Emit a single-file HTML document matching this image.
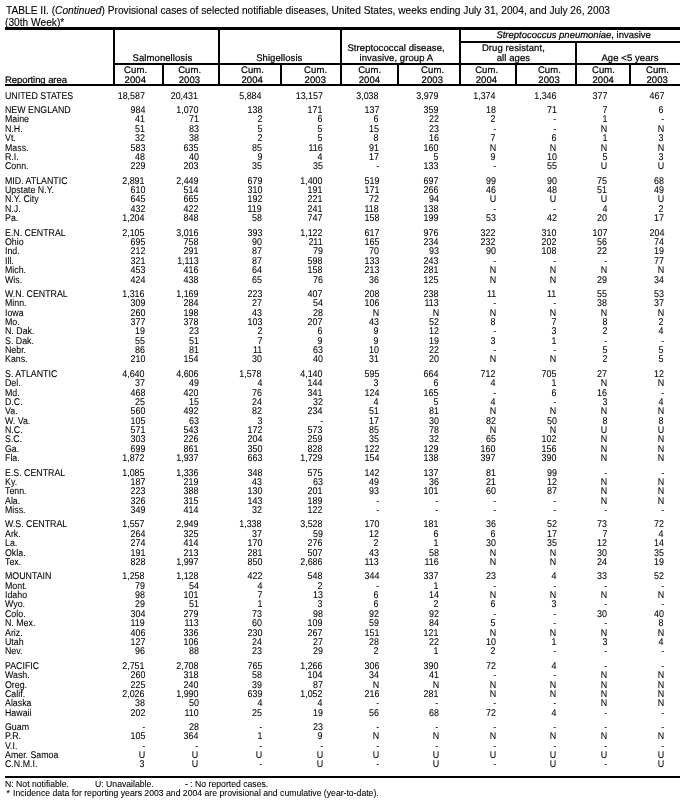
<!DOCTYPE html>
<html><head><meta charset="utf-8"><style>
*{margin:0;padding:0;box-sizing:border-box}
html,body{width:687px;height:802px;background:#fff;overflow:hidden}
body{position:relative;font-family:"Liberation Sans",sans-serif;color:#0b0709;text-rendering:geometricPrecision;-webkit-text-stroke:0.08px #0b0709}
#w{position:absolute;left:0;top:0;width:687px;height:802px;will-change:transform;filter:contrast(1.4)}
.t{position:absolute;white-space:pre;line-height:10px}
.l{position:absolute;background:#0b0709}
.d{font-size:9.8px;transform:scaleX(0.9);transform-origin:0 0}
.n{font-size:9.8px;text-align:right;transform:scaleX(0.91);transform-origin:100% 0}
.h{font-size:9.5px;letter-spacing:0.08px;-webkit-text-stroke:0.22px #0b0709}
.f{font-size:8.67px;text-rendering:auto}
.ti{font-size:11px;transform:scaleX(0.926);transform-origin:0 0;text-rendering:auto;-webkit-text-stroke:0.12px #0b0709}
</style></head><body><div id="w">

<div class="t ti" style="left:5.60px;top:5px">TABLE II. (<i>Continued</i>) Provisional cases of selected notifiable diseases, United States, weeks ending July 31, 2004, and July 26, 2003</div>
<div class="t ti" style="left:5.40px;top:17px">(30th Week)*</div>
<div class="l" style="left:5px;top:27px;width:675px;height:3px"></div>
<div class="l" style="left:461px;top:41px;width:219px;height:2px"></div>
<div class="l" style="left:115px;top:63px;width:565px;height:2px"></div>
<div class="l" style="left:5px;top:84px;width:675px;height:2px"></div>
<div class="l" style="left:5px;top:776px;width:675px;height:2px"></div>
<div class="l" style="left:113px;top:30px;width:2px;height:54px"></div>
<div class="l" style="left:218px;top:30px;width:2px;height:54px"></div>
<div class="l" style="left:340px;top:30px;width:2px;height:54px"></div>
<div class="l" style="left:459px;top:30px;width:2px;height:54px"></div>
<div class="l" style="left:575px;top:43px;width:2px;height:41px"></div>
<div class="l" style="left:162px;top:65px;width:2px;height:19px"></div>
<div class="l" style="left:280px;top:65px;width:2px;height:19px"></div>
<div class="l" style="left:397px;top:65px;width:2px;height:19px"></div>
<div class="l" style="left:515px;top:65px;width:2px;height:19px"></div>
<div class="l" style="left:629px;top:65px;width:2px;height:19px"></div>
<div class="t h" style="left:5.00px;top:76px;letter-spacing:-0.07px">Reporting area</div>
<div class="t h" style="left:62.40px;width:200px;text-align:center;top:54px">Salmonellosis</div>
<div class="t h" style="left:179.30px;width:200px;text-align:center;top:54px">Shigellosis</div>
<div class="t h" style="left:296.10px;width:200px;text-align:center;top:44px">Streptococcal disease,</div>
<div class="t h" style="left:296.30px;width:200px;text-align:center;top:54px">invasive, group A</div>
<div class="t h" style="left:473.60px;width:200px;text-align:center;top:31px;letter-spacing:-0.01px"><i>Streptococcus pneumoniae</i>, invasive</div>
<div class="t h" style="left:413.40px;width:200px;text-align:center;top:44px">Drug resistant,</div>
<div class="t h" style="left:413.40px;width:200px;text-align:center;top:54px">all ages</div>
<div class="t h" style="left:530.00px;width:200px;text-align:center;top:54px">Age &lt;5 years</div>
<div class="t h" style="left:35.60px;width:200px;text-align:center;top:66px">Cum.</div>
<div class="t h" style="left:35.30px;width:200px;text-align:center;top:76px">2004</div>
<div class="t h" style="left:89.70px;width:200px;text-align:center;top:66px">Cum.</div>
<div class="t h" style="left:89.40px;width:200px;text-align:center;top:76px">2003</div>
<div class="t h" style="left:152.50px;width:200px;text-align:center;top:66px">Cum.</div>
<div class="t h" style="left:152.20px;width:200px;text-align:center;top:76px">2004</div>
<div class="t h" style="left:215.60px;width:200px;text-align:center;top:66px">Cum.</div>
<div class="t h" style="left:215.30px;width:200px;text-align:center;top:76px">2003</div>
<div class="t h" style="left:269.70px;width:200px;text-align:center;top:66px">Cum.</div>
<div class="t h" style="left:269.40px;width:200px;text-align:center;top:76px">2004</div>
<div class="t h" style="left:332.60px;width:200px;text-align:center;top:66px">Cum.</div>
<div class="t h" style="left:332.30px;width:200px;text-align:center;top:76px">2003</div>
<div class="t h" style="left:386.70px;width:200px;text-align:center;top:66px">Cum.</div>
<div class="t h" style="left:386.40px;width:200px;text-align:center;top:76px">2004</div>
<div class="t h" style="left:449.40px;width:200px;text-align:center;top:66px">Cum.</div>
<div class="t h" style="left:449.10px;width:200px;text-align:center;top:76px">2003</div>
<div class="t h" style="left:503.50px;width:200px;text-align:center;top:66px">Cum.</div>
<div class="t h" style="left:503.20px;width:200px;text-align:center;top:76px">2004</div>
<div class="t h" style="left:557.50px;width:200px;text-align:center;top:66px">Cum.</div>
<div class="t h" style="left:557.20px;width:200px;text-align:center;top:76px">2003</div>
<div class="t d" style="left:5.00px;top:92px">UNITED STATES</div>
<div class="t n" style="right:542.10px;top:92px">18,587</div>
<div class="t n" style="right:488.60px;top:92px">20,431</div>
<div class="t n" style="right:425.05px;top:92px">5,884</div>
<div class="t n" style="right:364.20px;top:92px">13,157</div>
<div class="t n" style="right:308.10px;top:92px">3,038</div>
<div class="t n" style="right:248.30px;top:92px">3,979</div>
<div class="t n" style="right:191.20px;top:92px">1,374</div>
<div class="t n" style="right:130.60px;top:92px">1,346</div>
<div class="t n" style="right:79.80px;top:92px">377</div>
<div class="t n" style="right:23.15px;top:92px">467</div>
<div class="t d" style="left:5.00px;top:106px">NEW ENGLAND</div>
<div class="t n" style="right:542.10px;top:106px">984</div>
<div class="t n" style="right:488.60px;top:106px">1,070</div>
<div class="t n" style="right:425.05px;top:106px">138</div>
<div class="t n" style="right:364.20px;top:106px">171</div>
<div class="t n" style="right:308.10px;top:106px">137</div>
<div class="t n" style="right:248.30px;top:106px">359</div>
<div class="t n" style="right:191.20px;top:106px">18</div>
<div class="t n" style="right:130.60px;top:106px">71</div>
<div class="t n" style="right:79.80px;top:106px">7</div>
<div class="t n" style="right:23.15px;top:106px">6</div>
<div class="t d" style="left:5.00px;top:115px">Maine</div>
<div class="t n" style="right:542.10px;top:115px">41</div>
<div class="t n" style="right:488.60px;top:115px">71</div>
<div class="t n" style="right:425.05px;top:115px">2</div>
<div class="t n" style="right:364.20px;top:115px">6</div>
<div class="t n" style="right:308.10px;top:115px">6</div>
<div class="t n" style="right:248.30px;top:115px">22</div>
<div class="t n" style="right:191.20px;top:115px">2</div>
<div class="t n" style="right:130.60px;top:115px">-</div>
<div class="t n" style="right:79.80px;top:115px">1</div>
<div class="t n" style="right:23.15px;top:115px">-</div>
<div class="t d" style="left:5.00px;top:125px">N.H.</div>
<div class="t n" style="right:542.10px;top:125px">51</div>
<div class="t n" style="right:488.60px;top:125px">83</div>
<div class="t n" style="right:425.05px;top:125px">5</div>
<div class="t n" style="right:364.20px;top:125px">5</div>
<div class="t n" style="right:308.10px;top:125px">15</div>
<div class="t n" style="right:248.30px;top:125px">23</div>
<div class="t n" style="right:191.20px;top:125px">-</div>
<div class="t n" style="right:130.60px;top:125px">-</div>
<div class="t n" style="right:79.80px;top:125px">N</div>
<div class="t n" style="right:23.15px;top:125px">N</div>
<div class="t d" style="left:5.00px;top:134px">Vt.</div>
<div class="t n" style="right:542.10px;top:134px">32</div>
<div class="t n" style="right:488.60px;top:134px">38</div>
<div class="t n" style="right:425.05px;top:134px">2</div>
<div class="t n" style="right:364.20px;top:134px">5</div>
<div class="t n" style="right:308.10px;top:134px">8</div>
<div class="t n" style="right:248.30px;top:134px">16</div>
<div class="t n" style="right:191.20px;top:134px">7</div>
<div class="t n" style="right:130.60px;top:134px">6</div>
<div class="t n" style="right:79.80px;top:134px">1</div>
<div class="t n" style="right:23.15px;top:134px">3</div>
<div class="t d" style="left:5.00px;top:144px">Mass.</div>
<div class="t n" style="right:542.10px;top:144px">583</div>
<div class="t n" style="right:488.60px;top:144px">635</div>
<div class="t n" style="right:425.05px;top:144px">85</div>
<div class="t n" style="right:364.20px;top:144px">116</div>
<div class="t n" style="right:308.10px;top:144px">91</div>
<div class="t n" style="right:248.30px;top:144px">160</div>
<div class="t n" style="right:191.20px;top:144px">N</div>
<div class="t n" style="right:130.60px;top:144px">N</div>
<div class="t n" style="right:79.80px;top:144px">N</div>
<div class="t n" style="right:23.15px;top:144px">N</div>
<div class="t d" style="left:5.00px;top:153px">R.I.</div>
<div class="t n" style="right:542.10px;top:153px">48</div>
<div class="t n" style="right:488.60px;top:153px">40</div>
<div class="t n" style="right:425.05px;top:153px">9</div>
<div class="t n" style="right:364.20px;top:153px">4</div>
<div class="t n" style="right:308.10px;top:153px">17</div>
<div class="t n" style="right:248.30px;top:153px">5</div>
<div class="t n" style="right:191.20px;top:153px">9</div>
<div class="t n" style="right:130.60px;top:153px">10</div>
<div class="t n" style="right:79.80px;top:153px">5</div>
<div class="t n" style="right:23.15px;top:153px">3</div>
<div class="t d" style="left:5.00px;top:162px">Conn.</div>
<div class="t n" style="right:542.10px;top:162px">229</div>
<div class="t n" style="right:488.60px;top:162px">203</div>
<div class="t n" style="right:425.05px;top:162px">35</div>
<div class="t n" style="right:364.20px;top:162px">35</div>
<div class="t n" style="right:308.10px;top:162px">-</div>
<div class="t n" style="right:248.30px;top:162px">133</div>
<div class="t n" style="right:191.20px;top:162px">-</div>
<div class="t n" style="right:130.60px;top:162px">55</div>
<div class="t n" style="right:79.80px;top:162px">U</div>
<div class="t n" style="right:23.15px;top:162px">U</div>
<div class="t d" style="left:5.00px;top:177px">MID. ATLANTIC</div>
<div class="t n" style="right:542.10px;top:177px">2,891</div>
<div class="t n" style="right:488.60px;top:177px">2,449</div>
<div class="t n" style="right:425.05px;top:177px">679</div>
<div class="t n" style="right:364.20px;top:177px">1,400</div>
<div class="t n" style="right:308.10px;top:177px">519</div>
<div class="t n" style="right:248.30px;top:177px">697</div>
<div class="t n" style="right:191.20px;top:177px">99</div>
<div class="t n" style="right:130.60px;top:177px">90</div>
<div class="t n" style="right:79.80px;top:177px">75</div>
<div class="t n" style="right:23.15px;top:177px">68</div>
<div class="t d" style="left:5.00px;top:186px">Upstate N.Y.</div>
<div class="t n" style="right:542.10px;top:186px">610</div>
<div class="t n" style="right:488.60px;top:186px">514</div>
<div class="t n" style="right:425.05px;top:186px">310</div>
<div class="t n" style="right:364.20px;top:186px">191</div>
<div class="t n" style="right:308.10px;top:186px">171</div>
<div class="t n" style="right:248.30px;top:186px">266</div>
<div class="t n" style="right:191.20px;top:186px">46</div>
<div class="t n" style="right:130.60px;top:186px">48</div>
<div class="t n" style="right:79.80px;top:186px">51</div>
<div class="t n" style="right:23.15px;top:186px">49</div>
<div class="t d" style="left:5.00px;top:195px">N.Y. City</div>
<div class="t n" style="right:542.10px;top:195px">645</div>
<div class="t n" style="right:488.60px;top:195px">665</div>
<div class="t n" style="right:425.05px;top:195px">192</div>
<div class="t n" style="right:364.20px;top:195px">221</div>
<div class="t n" style="right:308.10px;top:195px">72</div>
<div class="t n" style="right:248.30px;top:195px">94</div>
<div class="t n" style="right:191.20px;top:195px">U</div>
<div class="t n" style="right:130.60px;top:195px">U</div>
<div class="t n" style="right:79.80px;top:195px">U</div>
<div class="t n" style="right:23.15px;top:195px">U</div>
<div class="t d" style="left:5.00px;top:205px">N.J.</div>
<div class="t n" style="right:542.10px;top:205px">432</div>
<div class="t n" style="right:488.60px;top:205px">422</div>
<div class="t n" style="right:425.05px;top:205px">119</div>
<div class="t n" style="right:364.20px;top:205px">241</div>
<div class="t n" style="right:308.10px;top:205px">118</div>
<div class="t n" style="right:248.30px;top:205px">138</div>
<div class="t n" style="right:191.20px;top:205px">-</div>
<div class="t n" style="right:130.60px;top:205px">-</div>
<div class="t n" style="right:79.80px;top:205px">4</div>
<div class="t n" style="right:23.15px;top:205px">2</div>
<div class="t d" style="left:5.00px;top:214px">Pa.</div>
<div class="t n" style="right:542.10px;top:214px">1,204</div>
<div class="t n" style="right:488.60px;top:214px">848</div>
<div class="t n" style="right:425.05px;top:214px">58</div>
<div class="t n" style="right:364.20px;top:214px">747</div>
<div class="t n" style="right:308.10px;top:214px">158</div>
<div class="t n" style="right:248.30px;top:214px">199</div>
<div class="t n" style="right:191.20px;top:214px">53</div>
<div class="t n" style="right:130.60px;top:214px">42</div>
<div class="t n" style="right:79.80px;top:214px">20</div>
<div class="t n" style="right:23.15px;top:214px">17</div>
<div class="t d" style="left:5.00px;top:229px">E.N. CENTRAL</div>
<div class="t n" style="right:542.10px;top:229px">2,105</div>
<div class="t n" style="right:488.60px;top:229px">3,016</div>
<div class="t n" style="right:425.05px;top:229px">393</div>
<div class="t n" style="right:364.20px;top:229px">1,122</div>
<div class="t n" style="right:308.10px;top:229px">617</div>
<div class="t n" style="right:248.30px;top:229px">976</div>
<div class="t n" style="right:191.20px;top:229px">322</div>
<div class="t n" style="right:130.60px;top:229px">310</div>
<div class="t n" style="right:79.80px;top:229px">107</div>
<div class="t n" style="right:23.15px;top:229px">204</div>
<div class="t d" style="left:5.00px;top:238px">Ohio</div>
<div class="t n" style="right:542.10px;top:238px">695</div>
<div class="t n" style="right:488.60px;top:238px">758</div>
<div class="t n" style="right:425.05px;top:238px">90</div>
<div class="t n" style="right:364.20px;top:238px">211</div>
<div class="t n" style="right:308.10px;top:238px">165</div>
<div class="t n" style="right:248.30px;top:238px">234</div>
<div class="t n" style="right:191.20px;top:238px">232</div>
<div class="t n" style="right:130.60px;top:238px">202</div>
<div class="t n" style="right:79.80px;top:238px">56</div>
<div class="t n" style="right:23.15px;top:238px">74</div>
<div class="t d" style="left:5.00px;top:247px">Ind.</div>
<div class="t n" style="right:542.10px;top:247px">212</div>
<div class="t n" style="right:488.60px;top:247px">291</div>
<div class="t n" style="right:425.05px;top:247px">87</div>
<div class="t n" style="right:364.20px;top:247px">79</div>
<div class="t n" style="right:308.10px;top:247px">70</div>
<div class="t n" style="right:248.30px;top:247px">93</div>
<div class="t n" style="right:191.20px;top:247px">90</div>
<div class="t n" style="right:130.60px;top:247px">108</div>
<div class="t n" style="right:79.80px;top:247px">22</div>
<div class="t n" style="right:23.15px;top:247px">19</div>
<div class="t d" style="left:5.00px;top:257px">Ill.</div>
<div class="t n" style="right:542.10px;top:257px">321</div>
<div class="t n" style="right:488.60px;top:257px">1,113</div>
<div class="t n" style="right:425.05px;top:257px">87</div>
<div class="t n" style="right:364.20px;top:257px">598</div>
<div class="t n" style="right:308.10px;top:257px">133</div>
<div class="t n" style="right:248.30px;top:257px">243</div>
<div class="t n" style="right:191.20px;top:257px">-</div>
<div class="t n" style="right:130.60px;top:257px">-</div>
<div class="t n" style="right:79.80px;top:257px">-</div>
<div class="t n" style="right:23.15px;top:257px">77</div>
<div class="t d" style="left:5.00px;top:266px">Mich.</div>
<div class="t n" style="right:542.10px;top:266px">453</div>
<div class="t n" style="right:488.60px;top:266px">416</div>
<div class="t n" style="right:425.05px;top:266px">64</div>
<div class="t n" style="right:364.20px;top:266px">158</div>
<div class="t n" style="right:308.10px;top:266px">213</div>
<div class="t n" style="right:248.30px;top:266px">281</div>
<div class="t n" style="right:191.20px;top:266px">N</div>
<div class="t n" style="right:130.60px;top:266px">N</div>
<div class="t n" style="right:79.80px;top:266px">N</div>
<div class="t n" style="right:23.15px;top:266px">N</div>
<div class="t d" style="left:5.00px;top:276px">Wis.</div>
<div class="t n" style="right:542.10px;top:276px">424</div>
<div class="t n" style="right:488.60px;top:276px">438</div>
<div class="t n" style="right:425.05px;top:276px">65</div>
<div class="t n" style="right:364.20px;top:276px">76</div>
<div class="t n" style="right:308.10px;top:276px">36</div>
<div class="t n" style="right:248.30px;top:276px">125</div>
<div class="t n" style="right:191.20px;top:276px">N</div>
<div class="t n" style="right:130.60px;top:276px">N</div>
<div class="t n" style="right:79.80px;top:276px">29</div>
<div class="t n" style="right:23.15px;top:276px">34</div>
<div class="t d" style="left:5.00px;top:290px">W.N. CENTRAL</div>
<div class="t n" style="right:542.10px;top:290px">1,316</div>
<div class="t n" style="right:488.60px;top:290px">1,169</div>
<div class="t n" style="right:425.05px;top:290px">223</div>
<div class="t n" style="right:364.20px;top:290px">407</div>
<div class="t n" style="right:308.10px;top:290px">208</div>
<div class="t n" style="right:248.30px;top:290px">238</div>
<div class="t n" style="right:191.20px;top:290px">11</div>
<div class="t n" style="right:130.60px;top:290px">11</div>
<div class="t n" style="right:79.80px;top:290px">55</div>
<div class="t n" style="right:23.15px;top:290px">53</div>
<div class="t d" style="left:5.00px;top:299px">Minn.</div>
<div class="t n" style="right:542.10px;top:299px">309</div>
<div class="t n" style="right:488.60px;top:299px">284</div>
<div class="t n" style="right:425.05px;top:299px">27</div>
<div class="t n" style="right:364.20px;top:299px">54</div>
<div class="t n" style="right:308.10px;top:299px">106</div>
<div class="t n" style="right:248.30px;top:299px">113</div>
<div class="t n" style="right:191.20px;top:299px">-</div>
<div class="t n" style="right:130.60px;top:299px">-</div>
<div class="t n" style="right:79.80px;top:299px">38</div>
<div class="t n" style="right:23.15px;top:299px">37</div>
<div class="t d" style="left:5.00px;top:309px">Iowa</div>
<div class="t n" style="right:542.10px;top:309px">260</div>
<div class="t n" style="right:488.60px;top:309px">198</div>
<div class="t n" style="right:425.05px;top:309px">43</div>
<div class="t n" style="right:364.20px;top:309px">28</div>
<div class="t n" style="right:308.10px;top:309px">N</div>
<div class="t n" style="right:248.30px;top:309px">N</div>
<div class="t n" style="right:191.20px;top:309px">N</div>
<div class="t n" style="right:130.60px;top:309px">N</div>
<div class="t n" style="right:79.80px;top:309px">N</div>
<div class="t n" style="right:23.15px;top:309px">N</div>
<div class="t d" style="left:5.00px;top:318px">Mo.</div>
<div class="t n" style="right:542.10px;top:318px">377</div>
<div class="t n" style="right:488.60px;top:318px">378</div>
<div class="t n" style="right:425.05px;top:318px">103</div>
<div class="t n" style="right:364.20px;top:318px">207</div>
<div class="t n" style="right:308.10px;top:318px">43</div>
<div class="t n" style="right:248.30px;top:318px">52</div>
<div class="t n" style="right:191.20px;top:318px">8</div>
<div class="t n" style="right:130.60px;top:318px">7</div>
<div class="t n" style="right:79.80px;top:318px">8</div>
<div class="t n" style="right:23.15px;top:318px">2</div>
<div class="t d" style="left:5.00px;top:327px">N. Dak.</div>
<div class="t n" style="right:542.10px;top:327px">19</div>
<div class="t n" style="right:488.60px;top:327px">23</div>
<div class="t n" style="right:425.05px;top:327px">2</div>
<div class="t n" style="right:364.20px;top:327px">6</div>
<div class="t n" style="right:308.10px;top:327px">9</div>
<div class="t n" style="right:248.30px;top:327px">12</div>
<div class="t n" style="right:191.20px;top:327px">-</div>
<div class="t n" style="right:130.60px;top:327px">3</div>
<div class="t n" style="right:79.80px;top:327px">2</div>
<div class="t n" style="right:23.15px;top:327px">4</div>
<div class="t d" style="left:5.00px;top:337px">S. Dak.</div>
<div class="t n" style="right:542.10px;top:337px">55</div>
<div class="t n" style="right:488.60px;top:337px">51</div>
<div class="t n" style="right:425.05px;top:337px">7</div>
<div class="t n" style="right:364.20px;top:337px">9</div>
<div class="t n" style="right:308.10px;top:337px">9</div>
<div class="t n" style="right:248.30px;top:337px">19</div>
<div class="t n" style="right:191.20px;top:337px">3</div>
<div class="t n" style="right:130.60px;top:337px">1</div>
<div class="t n" style="right:79.80px;top:337px">-</div>
<div class="t n" style="right:23.15px;top:337px">-</div>
<div class="t d" style="left:5.00px;top:346px">Nebr.</div>
<div class="t n" style="right:542.10px;top:346px">86</div>
<div class="t n" style="right:488.60px;top:346px">81</div>
<div class="t n" style="right:425.05px;top:346px">11</div>
<div class="t n" style="right:364.20px;top:346px">63</div>
<div class="t n" style="right:308.10px;top:346px">10</div>
<div class="t n" style="right:248.30px;top:346px">22</div>
<div class="t n" style="right:191.20px;top:346px">-</div>
<div class="t n" style="right:130.60px;top:346px">-</div>
<div class="t n" style="right:79.80px;top:346px">5</div>
<div class="t n" style="right:23.15px;top:346px">5</div>
<div class="t d" style="left:5.00px;top:355px">Kans.</div>
<div class="t n" style="right:542.10px;top:355px">210</div>
<div class="t n" style="right:488.60px;top:355px">154</div>
<div class="t n" style="right:425.05px;top:355px">30</div>
<div class="t n" style="right:364.20px;top:355px">40</div>
<div class="t n" style="right:308.10px;top:355px">31</div>
<div class="t n" style="right:248.30px;top:355px">20</div>
<div class="t n" style="right:191.20px;top:355px">N</div>
<div class="t n" style="right:130.60px;top:355px">N</div>
<div class="t n" style="right:79.80px;top:355px">2</div>
<div class="t n" style="right:23.15px;top:355px">5</div>
<div class="t d" style="left:5.00px;top:370px">S. ATLANTIC</div>
<div class="t n" style="right:542.10px;top:370px">4,640</div>
<div class="t n" style="right:488.60px;top:370px">4,606</div>
<div class="t n" style="right:425.05px;top:370px">1,578</div>
<div class="t n" style="right:364.20px;top:370px">4,140</div>
<div class="t n" style="right:308.10px;top:370px">595</div>
<div class="t n" style="right:248.30px;top:370px">664</div>
<div class="t n" style="right:191.20px;top:370px">712</div>
<div class="t n" style="right:130.60px;top:370px">705</div>
<div class="t n" style="right:79.80px;top:370px">27</div>
<div class="t n" style="right:23.15px;top:370px">12</div>
<div class="t d" style="left:5.00px;top:379px">Del.</div>
<div class="t n" style="right:542.10px;top:379px">37</div>
<div class="t n" style="right:488.60px;top:379px">49</div>
<div class="t n" style="right:425.05px;top:379px">4</div>
<div class="t n" style="right:364.20px;top:379px">144</div>
<div class="t n" style="right:308.10px;top:379px">3</div>
<div class="t n" style="right:248.30px;top:379px">6</div>
<div class="t n" style="right:191.20px;top:379px">4</div>
<div class="t n" style="right:130.60px;top:379px">1</div>
<div class="t n" style="right:79.80px;top:379px">N</div>
<div class="t n" style="right:23.15px;top:379px">N</div>
<div class="t d" style="left:5.00px;top:389px">Md.</div>
<div class="t n" style="right:542.10px;top:389px">468</div>
<div class="t n" style="right:488.60px;top:389px">420</div>
<div class="t n" style="right:425.05px;top:389px">76</div>
<div class="t n" style="right:364.20px;top:389px">341</div>
<div class="t n" style="right:308.10px;top:389px">124</div>
<div class="t n" style="right:248.30px;top:389px">165</div>
<div class="t n" style="right:191.20px;top:389px">-</div>
<div class="t n" style="right:130.60px;top:389px">6</div>
<div class="t n" style="right:79.80px;top:389px">16</div>
<div class="t n" style="right:23.15px;top:389px">-</div>
<div class="t d" style="left:5.00px;top:398px">D.C.</div>
<div class="t n" style="right:542.10px;top:398px">25</div>
<div class="t n" style="right:488.60px;top:398px">15</div>
<div class="t n" style="right:425.05px;top:398px">24</div>
<div class="t n" style="right:364.20px;top:398px">32</div>
<div class="t n" style="right:308.10px;top:398px">4</div>
<div class="t n" style="right:248.30px;top:398px">5</div>
<div class="t n" style="right:191.20px;top:398px">4</div>
<div class="t n" style="right:130.60px;top:398px">-</div>
<div class="t n" style="right:79.80px;top:398px">3</div>
<div class="t n" style="right:23.15px;top:398px">4</div>
<div class="t d" style="left:5.00px;top:407px">Va.</div>
<div class="t n" style="right:542.10px;top:407px">560</div>
<div class="t n" style="right:488.60px;top:407px">492</div>
<div class="t n" style="right:425.05px;top:407px">82</div>
<div class="t n" style="right:364.20px;top:407px">234</div>
<div class="t n" style="right:308.10px;top:407px">51</div>
<div class="t n" style="right:248.30px;top:407px">81</div>
<div class="t n" style="right:191.20px;top:407px">N</div>
<div class="t n" style="right:130.60px;top:407px">N</div>
<div class="t n" style="right:79.80px;top:407px">N</div>
<div class="t n" style="right:23.15px;top:407px">N</div>
<div class="t d" style="left:5.00px;top:417px">W. Va.</div>
<div class="t n" style="right:542.10px;top:417px">105</div>
<div class="t n" style="right:488.60px;top:417px">63</div>
<div class="t n" style="right:425.05px;top:417px">3</div>
<div class="t n" style="right:364.20px;top:417px">-</div>
<div class="t n" style="right:308.10px;top:417px">17</div>
<div class="t n" style="right:248.30px;top:417px">30</div>
<div class="t n" style="right:191.20px;top:417px">82</div>
<div class="t n" style="right:130.60px;top:417px">50</div>
<div class="t n" style="right:79.80px;top:417px">8</div>
<div class="t n" style="right:23.15px;top:417px">8</div>
<div class="t d" style="left:5.00px;top:426px">N.C.</div>
<div class="t n" style="right:542.10px;top:426px">571</div>
<div class="t n" style="right:488.60px;top:426px">543</div>
<div class="t n" style="right:425.05px;top:426px">172</div>
<div class="t n" style="right:364.20px;top:426px">573</div>
<div class="t n" style="right:308.10px;top:426px">85</div>
<div class="t n" style="right:248.30px;top:426px">78</div>
<div class="t n" style="right:191.20px;top:426px">N</div>
<div class="t n" style="right:130.60px;top:426px">N</div>
<div class="t n" style="right:79.80px;top:426px">U</div>
<div class="t n" style="right:23.15px;top:426px">U</div>
<div class="t d" style="left:5.00px;top:435px">S.C.</div>
<div class="t n" style="right:542.10px;top:435px">303</div>
<div class="t n" style="right:488.60px;top:435px">226</div>
<div class="t n" style="right:425.05px;top:435px">204</div>
<div class="t n" style="right:364.20px;top:435px">259</div>
<div class="t n" style="right:308.10px;top:435px">35</div>
<div class="t n" style="right:248.30px;top:435px">32</div>
<div class="t n" style="right:191.20px;top:435px">65</div>
<div class="t n" style="right:130.60px;top:435px">102</div>
<div class="t n" style="right:79.80px;top:435px">N</div>
<div class="t n" style="right:23.15px;top:435px">N</div>
<div class="t d" style="left:5.00px;top:445px">Ga.</div>
<div class="t n" style="right:542.10px;top:445px">699</div>
<div class="t n" style="right:488.60px;top:445px">861</div>
<div class="t n" style="right:425.05px;top:445px">350</div>
<div class="t n" style="right:364.20px;top:445px">828</div>
<div class="t n" style="right:308.10px;top:445px">122</div>
<div class="t n" style="right:248.30px;top:445px">129</div>
<div class="t n" style="right:191.20px;top:445px">160</div>
<div class="t n" style="right:130.60px;top:445px">156</div>
<div class="t n" style="right:79.80px;top:445px">N</div>
<div class="t n" style="right:23.15px;top:445px">N</div>
<div class="t d" style="left:5.00px;top:454px">Fla.</div>
<div class="t n" style="right:542.10px;top:454px">1,872</div>
<div class="t n" style="right:488.60px;top:454px">1,937</div>
<div class="t n" style="right:425.05px;top:454px">663</div>
<div class="t n" style="right:364.20px;top:454px">1,729</div>
<div class="t n" style="right:308.10px;top:454px">154</div>
<div class="t n" style="right:248.30px;top:454px">138</div>
<div class="t n" style="right:191.20px;top:454px">397</div>
<div class="t n" style="right:130.60px;top:454px">390</div>
<div class="t n" style="right:79.80px;top:454px">N</div>
<div class="t n" style="right:23.15px;top:454px">N</div>
<div class="t d" style="left:5.00px;top:469px">E.S. CENTRAL</div>
<div class="t n" style="right:542.10px;top:469px">1,085</div>
<div class="t n" style="right:488.60px;top:469px">1,336</div>
<div class="t n" style="right:425.05px;top:469px">348</div>
<div class="t n" style="right:364.20px;top:469px">575</div>
<div class="t n" style="right:308.10px;top:469px">142</div>
<div class="t n" style="right:248.30px;top:469px">137</div>
<div class="t n" style="right:191.20px;top:469px">81</div>
<div class="t n" style="right:130.60px;top:469px">99</div>
<div class="t n" style="right:79.80px;top:469px">-</div>
<div class="t n" style="right:23.15px;top:469px">-</div>
<div class="t d" style="left:5.00px;top:478px">Ky.</div>
<div class="t n" style="right:542.10px;top:478px">187</div>
<div class="t n" style="right:488.60px;top:478px">219</div>
<div class="t n" style="right:425.05px;top:478px">43</div>
<div class="t n" style="right:364.20px;top:478px">63</div>
<div class="t n" style="right:308.10px;top:478px">49</div>
<div class="t n" style="right:248.30px;top:478px">36</div>
<div class="t n" style="right:191.20px;top:478px">21</div>
<div class="t n" style="right:130.60px;top:478px">12</div>
<div class="t n" style="right:79.80px;top:478px">N</div>
<div class="t n" style="right:23.15px;top:478px">N</div>
<div class="t d" style="left:5.00px;top:487px">Tenn.</div>
<div class="t n" style="right:542.10px;top:487px">223</div>
<div class="t n" style="right:488.60px;top:487px">388</div>
<div class="t n" style="right:425.05px;top:487px">130</div>
<div class="t n" style="right:364.20px;top:487px">201</div>
<div class="t n" style="right:308.10px;top:487px">93</div>
<div class="t n" style="right:248.30px;top:487px">101</div>
<div class="t n" style="right:191.20px;top:487px">60</div>
<div class="t n" style="right:130.60px;top:487px">87</div>
<div class="t n" style="right:79.80px;top:487px">N</div>
<div class="t n" style="right:23.15px;top:487px">N</div>
<div class="t d" style="left:5.00px;top:497px">Ala.</div>
<div class="t n" style="right:542.10px;top:497px">326</div>
<div class="t n" style="right:488.60px;top:497px">315</div>
<div class="t n" style="right:425.05px;top:497px">143</div>
<div class="t n" style="right:364.20px;top:497px">189</div>
<div class="t n" style="right:308.10px;top:497px">-</div>
<div class="t n" style="right:248.30px;top:497px">-</div>
<div class="t n" style="right:191.20px;top:497px">-</div>
<div class="t n" style="right:130.60px;top:497px">-</div>
<div class="t n" style="right:79.80px;top:497px">N</div>
<div class="t n" style="right:23.15px;top:497px">N</div>
<div class="t d" style="left:5.00px;top:506px">Miss.</div>
<div class="t n" style="right:542.10px;top:506px">349</div>
<div class="t n" style="right:488.60px;top:506px">414</div>
<div class="t n" style="right:425.05px;top:506px">32</div>
<div class="t n" style="right:364.20px;top:506px">122</div>
<div class="t n" style="right:308.10px;top:506px">-</div>
<div class="t n" style="right:248.30px;top:506px">-</div>
<div class="t n" style="right:191.20px;top:506px">-</div>
<div class="t n" style="right:130.60px;top:506px">-</div>
<div class="t n" style="right:79.80px;top:506px">-</div>
<div class="t n" style="right:23.15px;top:506px">-</div>
<div class="t d" style="left:5.00px;top:520px">W.S. CENTRAL</div>
<div class="t n" style="right:542.10px;top:520px">1,557</div>
<div class="t n" style="right:488.60px;top:520px">2,949</div>
<div class="t n" style="right:425.05px;top:520px">1,338</div>
<div class="t n" style="right:364.20px;top:520px">3,528</div>
<div class="t n" style="right:308.10px;top:520px">170</div>
<div class="t n" style="right:248.30px;top:520px">181</div>
<div class="t n" style="right:191.20px;top:520px">36</div>
<div class="t n" style="right:130.60px;top:520px">52</div>
<div class="t n" style="right:79.80px;top:520px">73</div>
<div class="t n" style="right:23.15px;top:520px">72</div>
<div class="t d" style="left:5.00px;top:530px">Ark.</div>
<div class="t n" style="right:542.10px;top:530px">264</div>
<div class="t n" style="right:488.60px;top:530px">325</div>
<div class="t n" style="right:425.05px;top:530px">37</div>
<div class="t n" style="right:364.20px;top:530px">59</div>
<div class="t n" style="right:308.10px;top:530px">12</div>
<div class="t n" style="right:248.30px;top:530px">6</div>
<div class="t n" style="right:191.20px;top:530px">6</div>
<div class="t n" style="right:130.60px;top:530px">17</div>
<div class="t n" style="right:79.80px;top:530px">7</div>
<div class="t n" style="right:23.15px;top:530px">4</div>
<div class="t d" style="left:5.00px;top:539px">La.</div>
<div class="t n" style="right:542.10px;top:539px">274</div>
<div class="t n" style="right:488.60px;top:539px">414</div>
<div class="t n" style="right:425.05px;top:539px">170</div>
<div class="t n" style="right:364.20px;top:539px">276</div>
<div class="t n" style="right:308.10px;top:539px">2</div>
<div class="t n" style="right:248.30px;top:539px">1</div>
<div class="t n" style="right:191.20px;top:539px">30</div>
<div class="t n" style="right:130.60px;top:539px">35</div>
<div class="t n" style="right:79.80px;top:539px">12</div>
<div class="t n" style="right:23.15px;top:539px">14</div>
<div class="t d" style="left:5.00px;top:549px">Okla.</div>
<div class="t n" style="right:542.10px;top:549px">191</div>
<div class="t n" style="right:488.60px;top:549px">213</div>
<div class="t n" style="right:425.05px;top:549px">281</div>
<div class="t n" style="right:364.20px;top:549px">507</div>
<div class="t n" style="right:308.10px;top:549px">43</div>
<div class="t n" style="right:248.30px;top:549px">58</div>
<div class="t n" style="right:191.20px;top:549px">N</div>
<div class="t n" style="right:130.60px;top:549px">N</div>
<div class="t n" style="right:79.80px;top:549px">30</div>
<div class="t n" style="right:23.15px;top:549px">35</div>
<div class="t d" style="left:5.00px;top:558px">Tex.</div>
<div class="t n" style="right:542.10px;top:558px">828</div>
<div class="t n" style="right:488.60px;top:558px">1,997</div>
<div class="t n" style="right:425.05px;top:558px">850</div>
<div class="t n" style="right:364.20px;top:558px">2,686</div>
<div class="t n" style="right:308.10px;top:558px">113</div>
<div class="t n" style="right:248.30px;top:558px">116</div>
<div class="t n" style="right:191.20px;top:558px">N</div>
<div class="t n" style="right:130.60px;top:558px">N</div>
<div class="t n" style="right:79.80px;top:558px">24</div>
<div class="t n" style="right:23.15px;top:558px">19</div>
<div class="t d" style="left:5.00px;top:572px">MOUNTAIN</div>
<div class="t n" style="right:542.10px;top:572px">1,258</div>
<div class="t n" style="right:488.60px;top:572px">1,128</div>
<div class="t n" style="right:425.05px;top:572px">422</div>
<div class="t n" style="right:364.20px;top:572px">548</div>
<div class="t n" style="right:308.10px;top:572px">344</div>
<div class="t n" style="right:248.30px;top:572px">337</div>
<div class="t n" style="right:191.20px;top:572px">23</div>
<div class="t n" style="right:130.60px;top:572px">4</div>
<div class="t n" style="right:79.80px;top:572px">33</div>
<div class="t n" style="right:23.15px;top:572px">52</div>
<div class="t d" style="left:5.00px;top:582px">Mont.</div>
<div class="t n" style="right:542.10px;top:582px">79</div>
<div class="t n" style="right:488.60px;top:582px">54</div>
<div class="t n" style="right:425.05px;top:582px">4</div>
<div class="t n" style="right:364.20px;top:582px">2</div>
<div class="t n" style="right:308.10px;top:582px">-</div>
<div class="t n" style="right:248.30px;top:582px">1</div>
<div class="t n" style="right:191.20px;top:582px">-</div>
<div class="t n" style="right:130.60px;top:582px">-</div>
<div class="t n" style="right:79.80px;top:582px">-</div>
<div class="t n" style="right:23.15px;top:582px">-</div>
<div class="t d" style="left:5.00px;top:591px">Idaho</div>
<div class="t n" style="right:542.10px;top:591px">98</div>
<div class="t n" style="right:488.60px;top:591px">101</div>
<div class="t n" style="right:425.05px;top:591px">7</div>
<div class="t n" style="right:364.20px;top:591px">13</div>
<div class="t n" style="right:308.10px;top:591px">6</div>
<div class="t n" style="right:248.30px;top:591px">14</div>
<div class="t n" style="right:191.20px;top:591px">N</div>
<div class="t n" style="right:130.60px;top:591px">N</div>
<div class="t n" style="right:79.80px;top:591px">N</div>
<div class="t n" style="right:23.15px;top:591px">N</div>
<div class="t d" style="left:5.00px;top:600px">Wyo.</div>
<div class="t n" style="right:542.10px;top:600px">29</div>
<div class="t n" style="right:488.60px;top:600px">51</div>
<div class="t n" style="right:425.05px;top:600px">1</div>
<div class="t n" style="right:364.20px;top:600px">3</div>
<div class="t n" style="right:308.10px;top:600px">6</div>
<div class="t n" style="right:248.30px;top:600px">2</div>
<div class="t n" style="right:191.20px;top:600px">6</div>
<div class="t n" style="right:130.60px;top:600px">3</div>
<div class="t n" style="right:79.80px;top:600px">-</div>
<div class="t n" style="right:23.15px;top:600px">-</div>
<div class="t d" style="left:5.00px;top:610px">Colo.</div>
<div class="t n" style="right:542.10px;top:610px">304</div>
<div class="t n" style="right:488.60px;top:610px">279</div>
<div class="t n" style="right:425.05px;top:610px">73</div>
<div class="t n" style="right:364.20px;top:610px">98</div>
<div class="t n" style="right:308.10px;top:610px">92</div>
<div class="t n" style="right:248.30px;top:610px">92</div>
<div class="t n" style="right:191.20px;top:610px">-</div>
<div class="t n" style="right:130.60px;top:610px">-</div>
<div class="t n" style="right:79.80px;top:610px">30</div>
<div class="t n" style="right:23.15px;top:610px">40</div>
<div class="t d" style="left:5.00px;top:619px">N. Mex.</div>
<div class="t n" style="right:542.10px;top:619px">119</div>
<div class="t n" style="right:488.60px;top:619px">113</div>
<div class="t n" style="right:425.05px;top:619px">60</div>
<div class="t n" style="right:364.20px;top:619px">109</div>
<div class="t n" style="right:308.10px;top:619px">59</div>
<div class="t n" style="right:248.30px;top:619px">84</div>
<div class="t n" style="right:191.20px;top:619px">5</div>
<div class="t n" style="right:130.60px;top:619px">-</div>
<div class="t n" style="right:79.80px;top:619px">-</div>
<div class="t n" style="right:23.15px;top:619px">8</div>
<div class="t d" style="left:5.00px;top:629px">Ariz.</div>
<div class="t n" style="right:542.10px;top:629px">406</div>
<div class="t n" style="right:488.60px;top:629px">336</div>
<div class="t n" style="right:425.05px;top:629px">230</div>
<div class="t n" style="right:364.20px;top:629px">267</div>
<div class="t n" style="right:308.10px;top:629px">151</div>
<div class="t n" style="right:248.30px;top:629px">121</div>
<div class="t n" style="right:191.20px;top:629px">N</div>
<div class="t n" style="right:130.60px;top:629px">N</div>
<div class="t n" style="right:79.80px;top:629px">N</div>
<div class="t n" style="right:23.15px;top:629px">N</div>
<div class="t d" style="left:5.00px;top:638px">Utah</div>
<div class="t n" style="right:542.10px;top:638px">127</div>
<div class="t n" style="right:488.60px;top:638px">106</div>
<div class="t n" style="right:425.05px;top:638px">24</div>
<div class="t n" style="right:364.20px;top:638px">27</div>
<div class="t n" style="right:308.10px;top:638px">28</div>
<div class="t n" style="right:248.30px;top:638px">22</div>
<div class="t n" style="right:191.20px;top:638px">10</div>
<div class="t n" style="right:130.60px;top:638px">1</div>
<div class="t n" style="right:79.80px;top:638px">3</div>
<div class="t n" style="right:23.15px;top:638px">4</div>
<div class="t d" style="left:5.00px;top:647px">Nev.</div>
<div class="t n" style="right:542.10px;top:647px">96</div>
<div class="t n" style="right:488.60px;top:647px">88</div>
<div class="t n" style="right:425.05px;top:647px">23</div>
<div class="t n" style="right:364.20px;top:647px">29</div>
<div class="t n" style="right:308.10px;top:647px">2</div>
<div class="t n" style="right:248.30px;top:647px">1</div>
<div class="t n" style="right:191.20px;top:647px">2</div>
<div class="t n" style="right:130.60px;top:647px">-</div>
<div class="t n" style="right:79.80px;top:647px">-</div>
<div class="t n" style="right:23.15px;top:647px">-</div>
<div class="t d" style="left:5.00px;top:662px">PACIFIC</div>
<div class="t n" style="right:542.10px;top:662px">2,751</div>
<div class="t n" style="right:488.60px;top:662px">2,708</div>
<div class="t n" style="right:425.05px;top:662px">765</div>
<div class="t n" style="right:364.20px;top:662px">1,266</div>
<div class="t n" style="right:308.10px;top:662px">306</div>
<div class="t n" style="right:248.30px;top:662px">390</div>
<div class="t n" style="right:191.20px;top:662px">72</div>
<div class="t n" style="right:130.60px;top:662px">4</div>
<div class="t n" style="right:79.80px;top:662px">-</div>
<div class="t n" style="right:23.15px;top:662px">-</div>
<div class="t d" style="left:5.00px;top:671px">Wash.</div>
<div class="t n" style="right:542.10px;top:671px">260</div>
<div class="t n" style="right:488.60px;top:671px">318</div>
<div class="t n" style="right:425.05px;top:671px">58</div>
<div class="t n" style="right:364.20px;top:671px">104</div>
<div class="t n" style="right:308.10px;top:671px">34</div>
<div class="t n" style="right:248.30px;top:671px">41</div>
<div class="t n" style="right:191.20px;top:671px">-</div>
<div class="t n" style="right:130.60px;top:671px">-</div>
<div class="t n" style="right:79.80px;top:671px">N</div>
<div class="t n" style="right:23.15px;top:671px">N</div>
<div class="t d" style="left:5.00px;top:681px">Oreg.</div>
<div class="t n" style="right:542.10px;top:681px">225</div>
<div class="t n" style="right:488.60px;top:681px">240</div>
<div class="t n" style="right:425.05px;top:681px">39</div>
<div class="t n" style="right:364.20px;top:681px">87</div>
<div class="t n" style="right:308.10px;top:681px">N</div>
<div class="t n" style="right:248.30px;top:681px">N</div>
<div class="t n" style="right:191.20px;top:681px">N</div>
<div class="t n" style="right:130.60px;top:681px">N</div>
<div class="t n" style="right:79.80px;top:681px">N</div>
<div class="t n" style="right:23.15px;top:681px">N</div>
<div class="t d" style="left:5.00px;top:690px">Calif.</div>
<div class="t n" style="right:542.10px;top:690px">2,026</div>
<div class="t n" style="right:488.60px;top:690px">1,990</div>
<div class="t n" style="right:425.05px;top:690px">639</div>
<div class="t n" style="right:364.20px;top:690px">1,052</div>
<div class="t n" style="right:308.10px;top:690px">216</div>
<div class="t n" style="right:248.30px;top:690px">281</div>
<div class="t n" style="right:191.20px;top:690px">N</div>
<div class="t n" style="right:130.60px;top:690px">N</div>
<div class="t n" style="right:79.80px;top:690px">N</div>
<div class="t n" style="right:23.15px;top:690px">N</div>
<div class="t d" style="left:5.00px;top:699px">Alaska</div>
<div class="t n" style="right:542.10px;top:699px">38</div>
<div class="t n" style="right:488.60px;top:699px">50</div>
<div class="t n" style="right:425.05px;top:699px">4</div>
<div class="t n" style="right:364.20px;top:699px">4</div>
<div class="t n" style="right:308.10px;top:699px">-</div>
<div class="t n" style="right:248.30px;top:699px">-</div>
<div class="t n" style="right:191.20px;top:699px">-</div>
<div class="t n" style="right:130.60px;top:699px">-</div>
<div class="t n" style="right:79.80px;top:699px">N</div>
<div class="t n" style="right:23.15px;top:699px">N</div>
<div class="t d" style="left:5.00px;top:709px">Hawaii</div>
<div class="t n" style="right:542.10px;top:709px">202</div>
<div class="t n" style="right:488.60px;top:709px">110</div>
<div class="t n" style="right:425.05px;top:709px">25</div>
<div class="t n" style="right:364.20px;top:709px">19</div>
<div class="t n" style="right:308.10px;top:709px">56</div>
<div class="t n" style="right:248.30px;top:709px">68</div>
<div class="t n" style="right:191.20px;top:709px">72</div>
<div class="t n" style="right:130.60px;top:709px">4</div>
<div class="t n" style="right:79.80px;top:709px">-</div>
<div class="t n" style="right:23.15px;top:709px">-</div>
<div class="t d" style="left:5.00px;top:723px">Guam</div>
<div class="t n" style="right:542.10px;top:723px">-</div>
<div class="t n" style="right:488.60px;top:723px">28</div>
<div class="t n" style="right:425.05px;top:723px">-</div>
<div class="t n" style="right:364.20px;top:723px">23</div>
<div class="t n" style="right:308.10px;top:723px">-</div>
<div class="t n" style="right:248.30px;top:723px">-</div>
<div class="t n" style="right:191.20px;top:723px">-</div>
<div class="t n" style="right:130.60px;top:723px">-</div>
<div class="t n" style="right:79.80px;top:723px">-</div>
<div class="t n" style="right:23.15px;top:723px">-</div>
<div class="t d" style="left:5.00px;top:732px">P.R.</div>
<div class="t n" style="right:542.10px;top:732px">105</div>
<div class="t n" style="right:488.60px;top:732px">364</div>
<div class="t n" style="right:425.05px;top:732px">1</div>
<div class="t n" style="right:364.20px;top:732px">9</div>
<div class="t n" style="right:308.10px;top:732px">N</div>
<div class="t n" style="right:248.30px;top:732px">N</div>
<div class="t n" style="right:191.20px;top:732px">N</div>
<div class="t n" style="right:130.60px;top:732px">N</div>
<div class="t n" style="right:79.80px;top:732px">N</div>
<div class="t n" style="right:23.15px;top:732px">N</div>
<div class="t d" style="left:5.00px;top:742px">V.I.</div>
<div class="t n" style="right:542.10px;top:742px">-</div>
<div class="t n" style="right:488.60px;top:742px">-</div>
<div class="t n" style="right:425.05px;top:742px">-</div>
<div class="t n" style="right:364.20px;top:742px">-</div>
<div class="t n" style="right:308.10px;top:742px">-</div>
<div class="t n" style="right:248.30px;top:742px">-</div>
<div class="t n" style="right:191.20px;top:742px">-</div>
<div class="t n" style="right:130.60px;top:742px">-</div>
<div class="t n" style="right:79.80px;top:742px">-</div>
<div class="t n" style="right:23.15px;top:742px">-</div>
<div class="t d" style="left:5.00px;top:751px">Amer. Samoa</div>
<div class="t n" style="right:542.10px;top:751px">U</div>
<div class="t n" style="right:488.60px;top:751px">U</div>
<div class="t n" style="right:425.05px;top:751px">U</div>
<div class="t n" style="right:364.20px;top:751px">U</div>
<div class="t n" style="right:308.10px;top:751px">U</div>
<div class="t n" style="right:248.30px;top:751px">U</div>
<div class="t n" style="right:191.20px;top:751px">U</div>
<div class="t n" style="right:130.60px;top:751px">U</div>
<div class="t n" style="right:79.80px;top:751px">U</div>
<div class="t n" style="right:23.15px;top:751px">U</div>
<div class="t d" style="left:5.00px;top:760px">C.N.M.I.</div>
<div class="t n" style="right:542.10px;top:760px">3</div>
<div class="t n" style="right:488.60px;top:760px">U</div>
<div class="t n" style="right:425.05px;top:760px">-</div>
<div class="t n" style="right:364.20px;top:760px">U</div>
<div class="t n" style="right:308.10px;top:760px">-</div>
<div class="t n" style="right:248.30px;top:760px">U</div>
<div class="t n" style="right:191.20px;top:760px">-</div>
<div class="t n" style="right:130.60px;top:760px">U</div>
<div class="t n" style="right:79.80px;top:760px">-</div>
<div class="t n" style="right:23.15px;top:760px">U</div>
<div class="t f" style="left:5.00px;top:779px">N: Not notifiable.</div>
<div class="t f" style="left:95.00px;top:779px">U: Unavailable.</div>
<div class="t f" style="left:185.00px;top:779px">- : No reported cases.</div>
<div class="t f" style="left:6.60px;top:788px">*</div>
<div class="t f" style="left:13.00px;top:788px">Incidence data for reporting years 2003 and 2004 are provisional and cumulative (year-to-date).</div>
</div></body></html>
